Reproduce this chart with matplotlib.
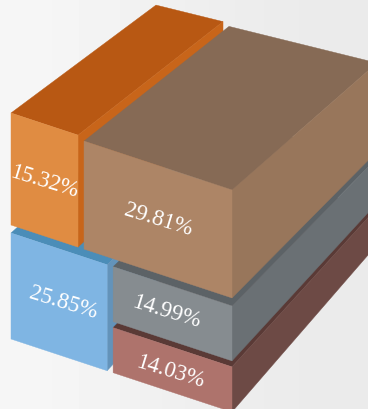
import numpy as np
import matplotlib
matplotlib.use('Agg')
import matplotlib.pyplot as plt

# Shares, in percent
top_names = ['orange', 'brown']
top_values = [15.32, 29.81]
bottom_names = ['blue', 'grey', 'red']
bottom_values = [25.85, 14.99, 14.03]

# front, top, side colours for each block
colours = {
    'orange': ('#E08C42', '#B85813', '#C8651A'),
    'brown': ('#AD8566', '#866A55', '#98765B'),
    'blue': ('#7FB5E3', '#4B8DB8', '#6393BA'),
    'grey': ('#868C90', '#5C6266', '#6A7074'),
    'red': ('#AE736C', '#5A3A36', '#6D4A45'),
}

# Layout of the treemap's front plane, in pixels
LEFT, TOP = 11, 114
WIDTH, HEIGHT = 221, 226
SKEW = 0.33
DEPTH = 145
ROW_BIAS = 0.062
STACK_BIAS = 0.03
ROW_GAP = 8
STACK_GAP = 6
COL_END, COL_START = 8, 2


def front_point(x, v):
    return x, TOP + SKEW * (x - LEFT) + v


# Edges run back at a slope that steepens further down the page
def back_point(x, y):
    slope = 0.60 + 0.00125 * y + 0.00016 * x
    return x + DEPTH, y - DEPTH * slope


def draw_block(ax, name, x0, x1, v0, v1):
    front_col, top_col, side_col = colours[name]
    tl = front_point(x0, v0)
    tr = front_point(x1, v0)
    br = front_point(x1, v1)
    bl = front_point(x0, v1)
    faces = [
        ([tl, tr, back_point(*tr), back_point(*tl)], top_col),
        ([tr, br, back_point(*br), back_point(*tr)], side_col),
        ([tl, tr, br, bl], front_col),
    ]
    for pts, col in faces:
        xs, ys = zip(*pts)
        ax.fill(xs, ys, color=col, linewidth=0.3, zorder=2)
    return (x0 + x1) / 2, (tl[1] + tr[1] + br[1] + bl[1]) / 4


fig = plt.figure(figsize=(3.68, 4.10), dpi=100)
ax = fig.add_axes([0, 0, 1, 1])
ax.set_xlim(0, 368)
ax.set_ylim(410, 0)
ax.axis('off')

# pale background, a little darker towards the right
bg = np.array([[0.965, 0.945, 0.93, 0.918]])
ax.imshow(bg, cmap='gray', vmin=0, vmax=1, extent=[0, 368, 410, 0],
          aspect='auto', interpolation='bicubic', zorder=0)

total = sum(top_values) + sum(bottom_values)
row_split = (sum(top_values) / total + ROW_BIAS) * HEIGHT
top_cut = LEFT + WIDTH * top_values[0] / sum(top_values)
bottom_cut = LEFT + WIDTH * bottom_values[0] / sum(bottom_values)
stack_share = bottom_values[1] / sum(bottom_values[1:]) + STACK_BIAS
lower_top = row_split + ROW_GAP / 2
stack_split = lower_top + stack_share * (HEIGHT - lower_top)

# Painted back to front so nearer blocks hide the hidden parts
right = LEFT + WIDTH
centres = {}
centres['blue'] = draw_block(ax, 'blue', LEFT, bottom_cut - COL_END, lower_top, HEIGHT)
centres['red'] = draw_block(ax, 'red', bottom_cut - COL_START, right,
                            stack_split + STACK_GAP / 2, HEIGHT)
centres['grey'] = draw_block(ax, 'grey', bottom_cut - COL_START, right,
                             lower_top, stack_split - STACK_GAP / 2)
centres['orange'] = draw_block(ax, 'orange', LEFT, top_cut - COL_END, 0, row_split - ROW_GAP / 2)
centres['brown'] = draw_block(ax, 'brown', top_cut - COL_START, right, 4, row_split - ROW_GAP / 2)

label_nudge = {'orange': (0, 1), 'brown': (0, 0), 'blue': (4, 0), 'grey': (-6, -3), 'red': (-2, 1)}
names = top_names + bottom_names
values = top_values + bottom_values
for name, val in zip(names, values):
    cx, cy = centres[name]
    dx, dy = label_nudge[name]
    ax.text(cx + dx, cy + dy, f'{val:.2f}%', color='white', fontsize=16.5,
            family='Liberation Serif', rotation=-17,
            rotation_mode='anchor', ha='center', va='center', zorder=3)

fig.savefig('out.png', dpi=100)
